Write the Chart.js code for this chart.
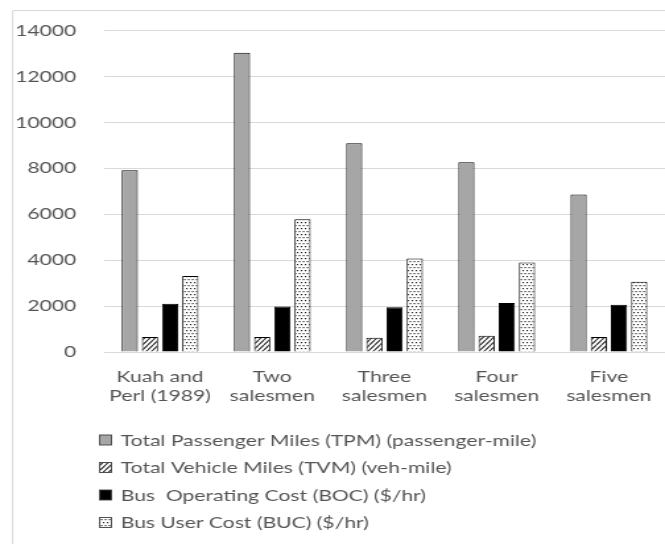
<!DOCTYPE html>
<html>
<head>
<meta charset="utf-8">
<script src="https://cdn.jsdelivr.net/npm/chart.js@4/dist/chart.umd.min.js"></script>
<style>
  html, body { margin: 0; padding: 0; background: #fff; overflow: hidden; }
  /* the chart is laid out narrow and widened horizontally, giving the wide lettering */
  #wrap { width: 504px; height: 544px; transform: scaleX(1.3194); transform-origin: 0 0; }
</style>
</head>
<body>
<div id="wrap"><canvas id="c"></canvas></div>
<script>
const categories = [['Kuah and', 'Perl (1989)'], ['Two', 'salesmen'], ['Three', 'salesmen'], ['Four', 'salesmen'], ['Five', 'salesmen']];
const seriesNames = [
  'Total Passenger Miles (TPM) (passenger-mile)',
  'Total Vehicle Miles (TVM) (veh-mile)',
  'Bus  Operating Cost (BOC) ($/hr)',
  'Bus User Cost (BUC) ($/hr)'
];
const tpm = [7920, 13030, 9090, 8270, 6860];
const tvm = [650, 650, 620, 710, 650];
const boc = [2100, 1980, 1950, 2130, 2060];
const buc = [3310, 5780, 4070, 3900, 3060];
const yTicks = [0, 2000, 4000, 6000, 8000, 10000, 12000, 14000];

const TEXT = '#555555';
const FONT = 'Lato';
const SIZE = 16;

function hatchPattern() {
  const c = document.createElement('canvas');
  c.width = 4; c.height = 5;
  const g = c.getContext('2d');
  g.fillStyle = '#fff'; g.fillRect(0, 0, 4, 5);
  g.strokeStyle = '#2b2b2b'; g.lineWidth = 1.1;
  g.beginPath();
  for (let k = -1; k <= 1; k++) {
    g.moveTo(k * 4, 5); g.lineTo(k * 4 + 4, 0);
  }
  g.stroke();
  return g.createPattern(c, 'repeat');
}
function dotPattern() {
  const c = document.createElement('canvas');
  c.width = 3; c.height = 6;
  const g = c.getContext('2d');
  g.fillStyle = '#fff'; g.fillRect(0, 0, 3, 6);
  g.fillStyle = '#1a1a1a';
  g.fillRect(0, 0, 1.1, 1.2);
  g.fillRect(1.5, 3, 1.1, 1.2);
  return g.createPattern(c, 'repeat');
}

const fills = ['#a6a6a6', hatchPattern(), '#000000', dotPattern()];
const values = [tpm, tvm, boc, buc];

// frame around the figure and the stacked legend underneath
const decor = {
  id: 'decor',
  beforeDraw(chart) {
    const ctx = chart.ctx;
    ctx.save();
    ctx.strokeStyle = '#d9d9d9';
    ctx.lineWidth = 1;
    ctx.beginPath();
    ctx.moveTo(9.6, chart.height); ctx.lineTo(9.6, 10.5); ctx.lineTo(chart.width, 10.5);
    ctx.stroke();
    ctx.restore();
  },
  afterDraw(chart) {
    const ctx = chart.ctx;
    const rows = [440, 467.5, 495, 522.5];
    ctx.save();
    ctx.font = SIZE + 'px ' + FONT;
    ctx.textBaseline = 'middle';
    ctx.textAlign = 'left';
    chart.data.datasets.forEach((ds, i) => {
      const y = rows[i];
      ctx.fillStyle = ds.backgroundColor;
      ctx.fillRect(75.5, y - 5, 9, 10);
      ctx.strokeStyle = '#404040';
      ctx.lineWidth = 0.9;
      ctx.strokeRect(75.5, y - 5, 9, 10);
      ctx.fillStyle = TEXT;
      ctx.fillText(ds.label, 91.5, y + 0.5);
    });
    ctx.restore();
  }
};

new Chart(document.getElementById('c'), {
  type: 'bar',
  data: {
    labels: categories,
    datasets: values.map((v, i) => ({
      label: seriesNames[i],
      data: v,
      backgroundColor: fills[i],
      borderColor: '#000',
      borderWidth: 1,
      categoryPercentage: 0.72,
      barPercentage: 0.8
    }))
  },
  options: {
    responsive: true,
    maintainAspectRatio: false,
    animation: false,
    layout: { padding: { left: 0, right: 0, top: 28, bottom: 132 } },
    plugins: { legend: { display: false }, tooltip: { enabled: false } },
    scales: {
      x: {
        grid: { display: false },
        border: { display: false },
        ticks: { color: TEXT, font: { family: FONT, size: SIZE, lineHeight: 1.15 }, padding: 8, maxRotation: 0, autoSkip: false },
        afterFit(s) { s.height = 60; }
      },
      y: {
        min: 0, max: 14000,
        afterBuildTicks(s) { s.ticks = yTicks.map(v => ({ value: v })); },
        grid: { color: '#d9d9d9', lineWidth: 1, drawTicks: false },
        border: { display: false },
        ticks: { color: TEXT, font: { family: FONT, size: SIZE }, padding: 21, callback: v => String(v) },
        afterFit(s) { s.width = 78.8; }
      }
    }
  },
  plugins: [decor]
});
</script>
</body>
</html>
